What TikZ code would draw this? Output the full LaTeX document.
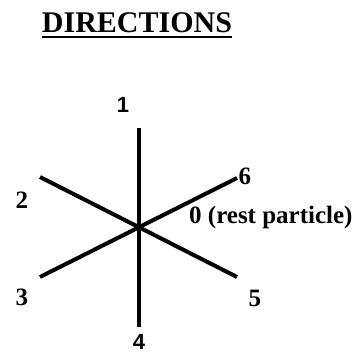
\documentclass[tikz,border=0pt]{standalone}
\usepackage{fontspec}
\setmainfont{Liberation Serif}
\setsansfont{Liberation Sans}
\usetikzlibrary{positioning}

\begin{document}
\begin{tikzpicture}[x=1pt, y=-1pt,
  ray/.style={line width=4pt},
  lbl/.style={font=\fontsize{25}{25}\selectfont\bfseries, inner sep=0pt},
  slbl/.style={font=\fontsize{22}{22}\selectfont\sffamily\bfseries, inner sep=0pt}
]
  \useasboundingbox (0,0) rectangle (360,353);

  % title
  \node[inner sep=0pt, anchor=base, font=\fontsize{30}{30}\selectfont\bfseries] (title) at (137,33) {DIRECTIONS};
  \draw[line width=2.5pt] ([yshift=-4pt]title.base west) -- ([yshift=-4pt]title.base east);

  % directions
  \coordinate (c)  at (139,228);
  \coordinate (d1) at (139,128);
  \coordinate (d2) at (40,177);
  \coordinate (d3) at (40,277);
  \coordinate (d4) at (139,327);
  \coordinate (d5) at (237,277);
  \coordinate (d6) at (237,178);

  \draw[ray] (d1) -- (d4);
  \draw[ray] (d2) -- (d5);
  \draw[ray] (d3) -- (d6);

  % labels
  \node[slbl] (l1) at (123,105) {1};
  \node[lbl]  (l2) at (22,200) {2};
  \node[lbl]  (l3) at (22,297) {3};
  \node[slbl] (l4) at (139,342) {4};
  \node[lbl]  (l5) at (255,298) {5};
  \node[lbl]  (l6) at (245,176) {6};
  \node[lbl, anchor=west] (l0) at (189,217) {0 (rest particle)};
\end{tikzpicture}
\end{document}
